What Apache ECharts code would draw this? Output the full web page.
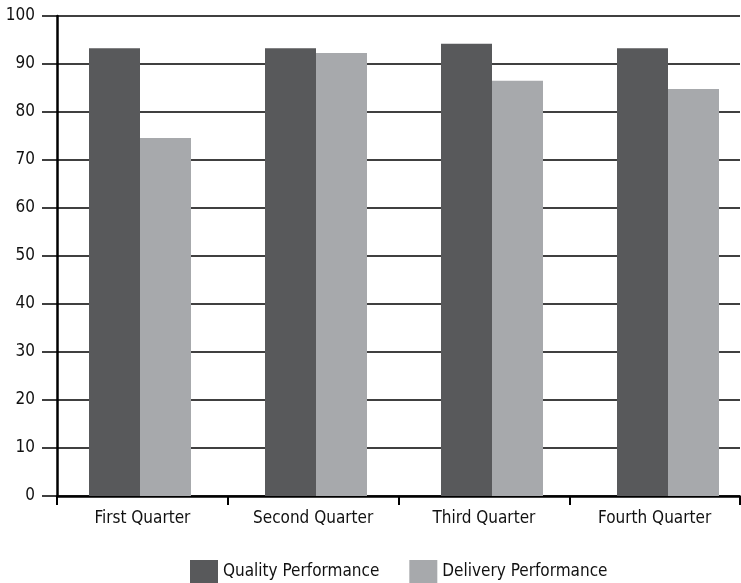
<!DOCTYPE html>
<html>
<head>
<meta charset="utf-8">
<script src="https://cdn.jsdelivr.net/npm/echarts@6/dist/echarts.min.js"></script>
<style>
  html, body { margin: 0; padding: 0; background: #fff; }
  #chart { width: 741px; height: 583px; }
</style>
</head>
<body>
<div id="chart"></div>
<script>
var categories = ['First Quarter', 'Second Quarter', 'Third Quarter', 'Fourth Quarter'];
var quality    = [93.3, 93.3, 94.2, 93.3];
var delivery   = [74.6, 92.3, 86.5, 84.8];

var FONT = '"Liberation Sans Narrow", "DejaVu Sans Condensed", "Open Sans", sans-serif';

var chart = echarts.init(document.getElementById('chart'));
chart.setOption({
    animation: false,
    textStyle: { fontFamily: FONT },
    // grid 0 carries the visible axes; grid 1 places the bars, which in the
    // original sit on a slightly wider pitch than the category ticks.
    grid: [
        { left: 57, right: 1, top: 16, bottom: 87 },
        { left: 52, right: -15, top: 16, bottom: 87, outerBoundsMode: 'none' }
    ],
    legend: {
        data: ['Quality Performance', 'Delivery Performance'],
        bottom: -5,
        left: 185,
        itemWidth: 28,
        itemHeight: 23,
        itemGap: 30,
        icon: 'rect',
        textStyle: { fontFamily: FONT, fontSize: 17, color: '#111' }
    },
    xAxis: [
        {
            type: 'category',
            gridIndex: 0,
            data: categories,
            axisLine: { lineStyle: { color: '#000', width: 2.5 } },
            axisTick: { show: true, length: 9, lineStyle: { color: '#000', width: 2 } },
            axisLabel: { margin: 14, fontSize: 17, color: '#111', fontFamily: FONT }
        },
        { type: 'category', gridIndex: 1, data: categories, show: false }
    ],
    yAxis: [
        {
            type: 'value',
            gridIndex: 0,
            min: 0,
            max: 100,
            interval: 10,
            axisLine: { show: true, lineStyle: { color: '#000', width: 2.5 } },
            axisTick: { show: true, length: 15, lineStyle: { color: '#000', width: 1.5 } },
            axisLabel: { margin: 22, fontSize: 17, color: '#111', fontFamily: FONT },
            splitLine: { show: true, lineStyle: { color: '#000', width: 1.5 } }
        },
        { type: 'value', gridIndex: 1, min: 0, max: 100, interval: 10, show: false,
          splitLine: { show: false } }
    ],
    series: [
        { name: 'Quality Performance', type: 'bar', data: quality,
          xAxisIndex: 1, yAxisIndex: 1,
          barWidth: 51, barGap: '0%', itemStyle: { color: '#58595b' } },
        { name: 'Delivery Performance', type: 'bar', data: delivery,
          xAxisIndex: 1, yAxisIndex: 1,
          barWidth: 51, barGap: '0%', itemStyle: { color: '#a7a9ac' } }
    ]
});
</script>
</body>
</html>
